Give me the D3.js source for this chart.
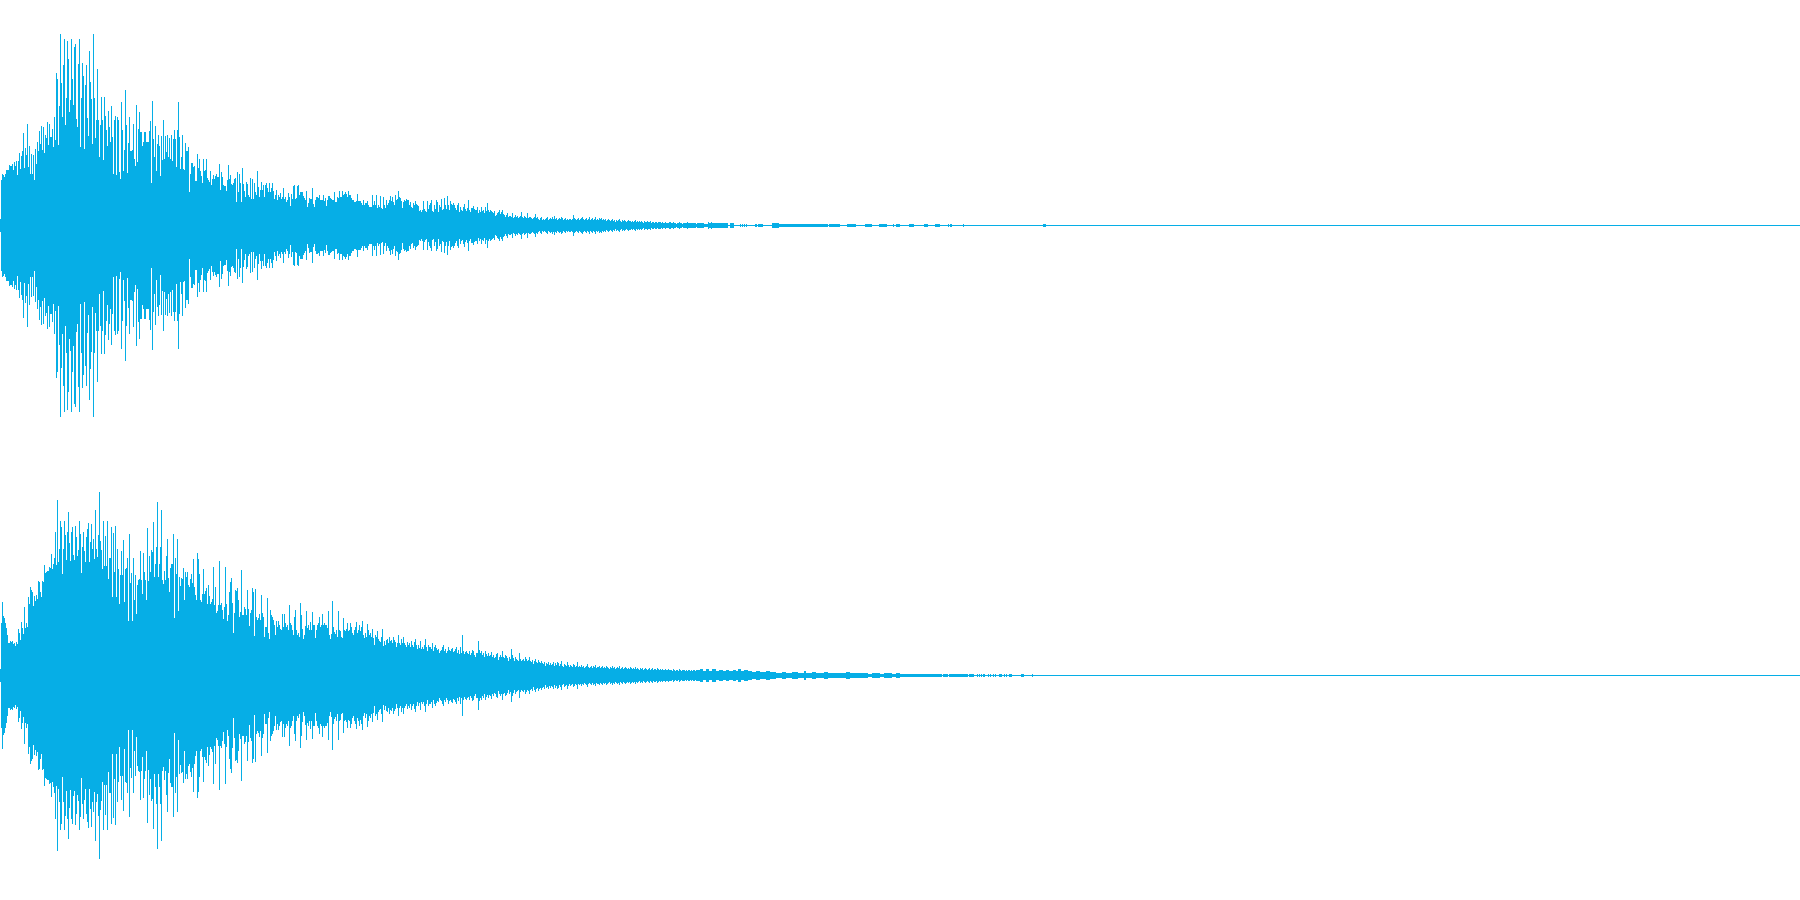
<!DOCTYPE html>
<html><head><meta charset="utf-8">
<style>html,body{margin:0;padding:0;background:#fff}svg{display:block}</style>
<script src="https://cdn.jsdelivr.net/npm/d3@7"></script>
</head><body><div id="chart"></div>
<script>
// Peak level per pixel column (0 = silence, 225 = full scale); waveform is mirrored around zero.
const topPeaks = [
6,45,51,50,48,51,55,55,55,60, 59,59,61,55,63,59,64,50,64,72, 56,69,74,92,57,77,70,101,58,79,
51,71,51,70,45,76,61,83,74,94, 81,99,75,98,72,90,87,103,80,101, 88,88,96,78,108,85,152,146,80,119,
191,142,108,160,186,100,127,184,166,113, 125,186,146,120,178,181,106,98,161,186, 78,127,162,149,76,140,160,107,89,174,
143,126,81,191,127,87,105,156,105,68, 100,128,105,65,128,109,95,79,114,98, 83,119,88,51,105,109,50,108,105,53,
46,123,95,54,75,135,100,52,82,108, 74,74,75,101,66,59,120,63,96,113, 93,93,79,83,93,93,83,83,83,94,
104,42,124,86,68,99,54,81,90,79, 49,89,65,105,66,89,73,90,68,87, 66,90,64,86,95,86,58,95,123,88,
56,68,90,56,55,82,74,74,78,33, 51,62,62,58,59,44,44,71,57,66, 54,49,42,66,54,55,66,47,45,43,
54,40,46,50,46,49,51,48,48,61, 35,53,48,40,39,39,34,45,60,46, 50,41,40,42,46,47,23,53,33,51,
42,23,57,41,34,28,43,41,30,28, 47,26,46,26,42,33,30,54,38,28, 35,43,35,40,28,40,42,37,33,42,
33,37,42,34,26,30,35,25,30,28, 32,26,28,37,26,28,23,25,32,28, 19,31,26,39,40,26,27,39,40,30,
33,33,33,29,27,25,34,18,22,27, 26,26,37,21,18,25,28,28,27,30, 25,25,25,30,24,27,19,25,29,29,
27,26,25,25,33,23,23,28,27,34, 28,28,34,30,31,33,31,28,34,30, 30,27,25,25,23,23,24,31,24,24,
24,22,20,25,20,22,22,24,20,18, 18,18,30,20,24,20,30,17,20,18, 29,17,16,28,20,17,25,20,22,25,
29,24,28,23,20,30,25,26,34,28, 27,24,17,23,25,24,26,25,25,20, 23,18,17,22,20,24,21,20,19,14,
15,13,15,24,16,14,13,24,16,20, 22,25,14,13,20,16,25,23,13,20, 18,26,15,16,27,20,16,29,20,15,
24,21,20,22,20,17,15,20,22,13, 18,15,14,18,21,16,14,17,25,15, 13,17,17,19,16,15,15,18,12,15,
13,18,14,15,12,18,14,22,15,13, 15,14,13,12,14,9,10,12,13,15, 11,13,15,11,10,8,10,12,8,9,
9,8,12,7,8,10,8,9,7,8, 9,13,8,7,9,8,7,12,7,8, 8,7,6,7,8,11,7,8,6,5,
7,8,5,6,5,6,7,8,5,6, 7,6,8,6,9,6,7,5,6,7, 6,8,7,5,6,7,5,6,5,6,
6,5,6,10,7,6,5,6,7,5, 6,7,8,6,5,6,7,5,6,8, 5,6,7,5,6,8,5,6,5,7,
6,7,5,6,5,6,4,5,6,5, 4,5,6,4,5,3,5,4,5,6, 4,3,5,4,5,4,3,4,5,4,
4,3,4,3,4,5,3,4,3,4, 3,4,3,2,4,3,3,4,3,3, 4,2,3,3,2,3,3,2,3,3,
3,2,3,2,2,3,2,2,2,3, 3,2,2,3,2,2,1,2,2,3, 2,2,1,2,2,2,2,3,2,2,
2,2,2,2,2,2,1,2,2,2
];
const bottomPeaks = [
6,52,73,59,57,52,47,40,32,32, 34,33,34,31,32,29,33,31,46,42, 35,53,47,41,68,47,52,48,78,71,
88,85,83,69,79,74,80,76,94,93, 83,78,94,93,110,102,103,104,104,108, 107,121,106,111,117,143,110,175,113,126,
154,148,101,126,154,140,115,143,163,132, 114,143,148,120,115,149,138,119,125,154, 141,102,128,143,124,113,138,146,152,113,
133,151,126,136,116,165,126,118,140,183, 134,125,106,154,109,139,109,154,96,117, 117,148,78,142,103,149,78,126,106,71,
100,124,100,135,73,106,107,117,54,141, 92,102,54,117,75,100,61,90,95,96, 124,95,81,122,103,95,75,147,94,119,
103,125,123,153,98,111,128,173,98,111, 128,165,95,91,104,95,119,136,97,83, 107,111,111,141,57,117,101,136,64,98,
89,97,96,107,75,103,98,103,90,88, 96,101,92,116,88,80,75,122,116,101, 75,73,81,106,81,84,87,71,90,79,
71,73,76,108,70,88,62,64,70,114, 70,72,65,56,68,108,71,54,60,83, 93,97,72,42,62,85,84,87,75,58,
63,105,60,60,68,66,60,85,66,49, 62,65,87,83,39,86,58,55,57,61, 55,80,62,58,38,48,48,77,42,36,
65,60,58,55,50,40,54,48,54,50, 46,45,61,48,61,52,48,50,45,70, 52,50,45,40,58,65,45,40,42,38,
72,60,46,36,40,49,64,47,50,45, 53,45,63,50,50,37,45,50,52,58, 48,50,61,50,52,50,50,47,64,40,
36,41,74,48,43,41,45,38,64,45, 44,38,37,57,45,44,46,52,44,45, 52,48,42,40,45,48,53,42,45,50,
44,48,54,40,37,42,38,51,45,40, 42,38,46,37,30,40,38,44,36,34, 33,38,46,29,34,30,35,36,32,38,
34,35,32,38,35,33,28,32,40,32, 30,36,32,38,32,30,28,33,30,32, 28,34,30,28,33,36,30,26,30,27,
34,26,28,26,30,36,28,24,30,28, 28,26,32,24,28,30,27,25,26,22, 24,25,28,30,24,26,22,24,28,25,
24,26,27,23,24,26,28,22,25,21, 28,22,40,24,21,23,24,22,21,24, 20,22,25,24,20,18,22,22,34,25,
22,24,20,22,18,24,21,19,22,19, 20,23,18,20,17,18,21,22,15,18, 20,18,24,18,17,20,19,17,14,18,
16,26,20,17,14,18,16,15,14,22, 16,14,15,16,14,18,16,14,15,18, 14,13,15,11,14,16,13,12,15,13,
12,14,12,11,13,9,12,11,13,10, 12,10,11,13,9,12,10,13,12,9, 11,14,9,8,11,10,9,13,10,8,
10,9,8,11,10,8,9,13,8,9, 8,10,8,9,7,8,9,11,8,7, 8,9,7,9,8,10,7,8,8,9,
7,8,9,7,8,7,9,8,7,6, 8,7,9,7,8,6,7,8,7,9, 6,7,8,6,7,8,7,6,7,6,
8,7,6,7,6,8,6,7,6,5, 7,6,7,5,6,7,6,5,6,7, 5,6,7,5,6,6,5,7,6,5,
6,5,6,5,5,6,5,5,6,5, 5,5,4,6,5,4,5,5,4,6, 5,4,5,5,5,4,5,4,5,5,
4,5,4,5,5,4,5,5,5,5
];
// Tail of each channel as [first column, column after last, level] runs; silence elsewhere.
const topTail = [
[700,704,2],[704,708,1],[708,709,3],[709,711,2],[711,712,3],[712,728,2],[730,734,2],
[740,741,1],[742,743,1],[744,745,1],[746,747,1],[755,757,1],[758,762,1],[762,763,1],
[772,779,2],[779,828,1],[829,840,1],[847,856,1],[865,872,1],[879,887,1],[893,894,1],
[896,900,1],[909,914,1],[924,928,1],[935,940,1],[948,949,1],[950,952,1],[963,964,1],[1043,1046,1]
];
const bottomTail = [
[700,703,6],[703,706,4],[706,709,6],[709,712,4],[712,716,6],[716,719,4],[719,723,5],[723,726,4],[726,729,5],[729,733,4],
[733,736,5],[736,738,4],[738,741,6],[741,744,4],[744,748,5],[748,752,4],[752,756,3],[756,760,4],[760,766,3],[766,770,4],
[770,776,3],[776,782,2],[782,786,3],[786,792,2],[792,798,3],[798,804,2],[804,806,4],[806,812,2],[812,816,3],[816,824,2],
[824,828,3],[828,836,2],[836,846,2],[846,850,3],[850,860,2],[860,868,2],[868,872,1],[872,880,2],[880,884,1],[884,892,2],
[892,896,1],[896,900,2],[900,907,1],[907,942,1],[943,948,1],[949,968,1],[969,974,1],
[977,978,1],[979,980,1],[981,982,1],[983,985,1],[988,989,1],[990,991,1],[993,994,1],[995,996,1],[999,1002,1],
[1004,1005,1],[1006,1007,1],[1009,1012,1],[1021,1024,1],[1032,1033,1]
];
const waveColor = "#06aee6";
const W = 1800, H = 900, columnCount = 1800, fullScale = 225;

function columns(peaks, tail) {
  const cols = d3.range(columnCount).map(i => ({i, level: i < peaks.length ? peaks[i] : 0}));
  tail.forEach(([a, b, level]) => d3.range(a, b).forEach(i => { cols[i].level = level; }));
  return cols;
}
const x = d3.scaleLinear().domain([0, columnCount]).range([0, W]);
const panes = [
  {peaks: topPeaks, tail: topTail, range: [450, 0]},
  {peaks: bottomPeaks, tail: bottomTail, range: [900, 450]}
];
const svg = d3.select("#chart").append("svg").attr("width", W).attr("height", H).attr("viewBox", `0 0 ${W} ${H}`);
svg.append("rect").attr("width", W).attr("height", H).attr("fill", "#fff");
panes.forEach(p => {
  const y = d3.scaleLinear().domain([-fullScale, fullScale]).range(p.range);
  svg.append("g").attr("fill", waveColor).attr("shape-rendering", "crispEdges")
    .selectAll("rect").data(columns(p.peaks, p.tail)).join("rect")
    .attr("x", d => x(d.i))
    .attr("width", d => x(d.i + 1) - x(d.i))
    .attr("y", d => y(d.level))
    .attr("height", d => y(-d.level) - y(d.level) + 1);
});
</script></body></html>
